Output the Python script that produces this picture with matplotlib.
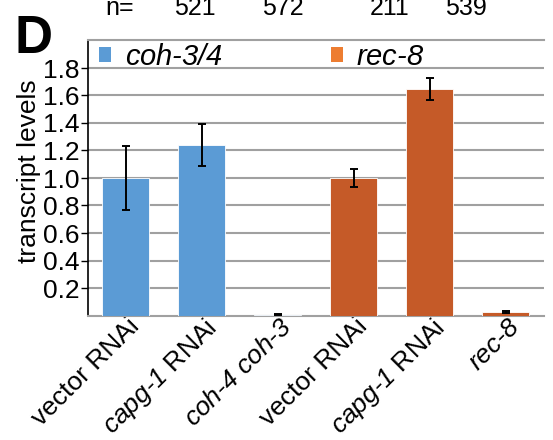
import matplotlib
matplotlib.use("Agg")
import matplotlib.pyplot as plt
import matplotlib.transforms as mtransforms
from matplotlib.patches import Patch
import numpy as np

plt.rcParams['font.family'] = ['Liberation Sans', 'DejaVu Sans']
plt.rcParams['mathtext.fontset'] = 'custom'
plt.rcParams['mathtext.it'] = 'Liberation Sans:italic'
plt.rcParams['mathtext.rm'] = 'Liberation Sans:italic'
plt.rcParams['mathtext.sf'] = 'Liberation Sans'

# data
labels = ["vector RNAi", r"$capg‐1\ \mathsf{RNAi}$", r"$coh‐4\ coh‐3$",
          "vector RNAi", r"$capg‐1\ \mathsf{RNAi}$", r"$rec‐8$"]
values = [1.0, 1.24, 0.005, 1.0, 1.65, 0.025]
errors = [0.23, 0.15, 0.004, 0.065, 0.08, 0.005]
groups = ["coh", "coh", "coh", "rec", "rec", "rec"]
legend_labels = [r"$coh‐3/4$", r"$rec‐8$"]
n_labels = ["n=", "521", "572", "211", "539"]
n_xpos = [120, 195, 283, 390, 466]  # pixel centers across the top
yticks = [0.2, 0.4, 0.6, 0.8, 1.0, 1.2, 1.4, 1.6, 1.8]

blue = "#5B9BD5"
orange = "#C55A28"
colors = {"coh": blue, "rec": orange}

W, H = 553, 440
fig = plt.figure(figsize=(W / 100, H / 100), dpi=100)
ax = fig.add_axes([87.5 / W, 1 - 315.5 / H, 456 / W, 275 / H])

x = np.arange(len(values))
ax.bar(x, values, width=0.63, color=[colors[g] for g in groups],
       edgecolor="white", linewidth=0.6, zorder=3)
ax.errorbar(x, values, yerr=errors, fmt="none", ecolor="black",
            elinewidth=1.4, capsize=3, capthick=1.4, zorder=4)

ax.set_xlim(-0.5, len(values) - 0.5)
ax.set_ylim(0, 2.0)
ax.set_yticks(yticks)
ax.set_yticklabels([f"{t:.1f}" for t in yticks], fontsize=19)
ax.yaxis.grid(True, color="#a0a0a0", linewidth=1.5, zorder=0)
ax.set_axisbelow(True)
ax.tick_params(axis="y", length=5, width=1, direction="out", pad=1)
ax.tick_params(axis="x", length=0, pad=2)

ax.set_xticks(x)
ax.set_xticklabels(labels, fontsize=19, rotation=45, ha="right", va="top",
                   rotation_mode="anchor")
offset = mtransforms.ScaledTranslation(2 / 100, 4 / 100, fig.dpi_scale_trans)
for lab in ax.get_xticklabels():
    lab.set_transform(lab.get_transform() + offset)

ax.set_ylabel("transcript levels", fontsize=19)
ax.yaxis.set_label_coords(-0.102, 0.525)

ax.spines["left"].set_color("black")
ax.spines["left"].set_linewidth(1.2)
for s in ["top", "bottom"]:
    ax.spines[s].set_color("#a0a0a0")
    ax.spines[s].set_linewidth(1.5)
ax.spines["right"].set_visible(False)

# legend in the top band
handles = [Patch(facecolor=blue, edgecolor="none"),
           Patch(facecolor="#ED7D31", edgecolor="none")]
ax.legend(handles, legend_labels,
          loc="upper left", bbox_to_anchor=(0.0, 1.035), ncol=2,
          frameon=False, fontsize=21, handlelength=0.42, handleheight=0.42,
          handletextpad=0.45, columnspacing=3.7, borderaxespad=0.0)

fig.text(15 / W, 1 - 53 / H, "D", fontsize=38, fontweight="bold",
         va="baseline", ha="left")
for t, px in zip(n_labels, n_xpos):
    fig.text(px / W, 1 - 15 / H, t, fontsize=18, ha="center", va="baseline")

fig.savefig("out.png", dpi=100)
